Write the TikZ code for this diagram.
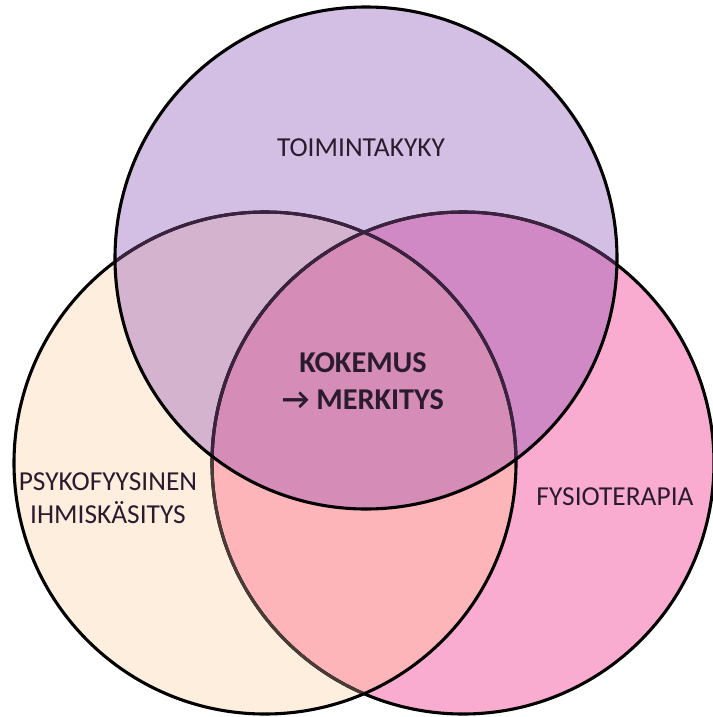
\documentclass[tikz,border=0pt]{standalone}
\usepackage{fontspec}
\setmainfont{Carlito}
\usepackage{tikz}
\definecolor{topfill}{HTML}{D3BFE3}
\definecolor{leftfill}{HTML}{FDEEDE}
\definecolor{rightfill}{HTML}{F9ACD0}
\definecolor{lrfill}{HTML}{FDB5BA}
\definecolor{tlfill}{HTML}{D4B3CE}
\definecolor{trfill}{HTML}{D089C4}
\definecolor{midfill}{HTML}{D58CB6}
\definecolor{brownline}{HTML}{4A3B36}
\definecolor{plumline}{HTML}{3A2240}
\definecolor{inkdark}{HTML}{2B1B2E}
\newcommand{\discTop}{(366,-258) circle (251)}
\newcommand{\discLeft}{(265,-463) circle (251)}
\newcommand{\discRight}{(463,-463) circle (251)}

\begin{document}
\begin{tikzpicture}[
  x=0.025cm, y=0.025cm,
  rim/.style={line width=2.2pt, draw=black},
  tag/.style={font=\fontsize{19.5}{23.4}\selectfont, text=inkdark, align=center},
  core/.style={tag, font=\fontsize{21.5}{26.5}\selectfont\bfseries}
]
\useasboundingbox (0,0) rectangle (712,-717);

% fills
\fill[topfill] \discTop;
\fill[leftfill] \discLeft;
\fill[rightfill] \discRight;
\begin{scope}
  \clip \discLeft;
  \fill[lrfill] \discRight;
\end{scope}
\begin{scope}
  \clip \discTop;
  \fill[tlfill] \discLeft;
  \fill[trfill] \discRight;
  \clip \discLeft;
  \fill[midfill] \discRight;
\end{scope}

% outlines
\draw[rim] \discRight;
\begin{scope}
  \clip \discLeft;
  \draw[rim, draw=brownline] \discRight;
\end{scope}
\draw[rim] \discLeft;
\begin{scope}
  \clip \discTop;
  \draw[rim, draw=plumline] \discRight;
  \draw[rim, draw=plumline] \discLeft;
\end{scope}
\draw[rim] \discTop;

\node[tag] (toiminta) at (361,-148) {TOIMINTAKYKY};
\node[core] (kokemus) at (363,-381) {KOKEMUS\\→ MERKITYS};
\node[tag] (psyko) at (108,-498) {PSYKOFYYSINEN\\IHMISKÄSITYS};
\node[tag] (fysio) at (615,-497) {FYSIOTERAPIA};
\end{tikzpicture}
\end{document}
